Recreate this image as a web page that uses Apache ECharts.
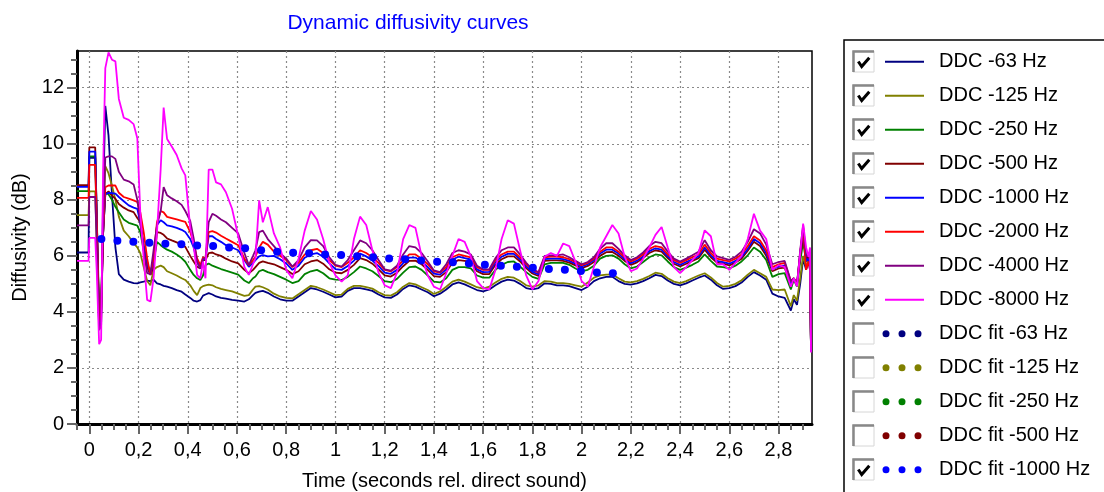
<!DOCTYPE html>
<html><head><meta charset="utf-8">
<script src="https://cdn.jsdelivr.net/npm/echarts@6.0.0/dist/echarts.min.js"></script>
<style>html,body{margin:0;padding:0;background:#fff}#chart{width:1104px;height:492px}</style>
</head><body><div id="chart"></div>
<script>
// ---------- DATA ----------
const time = [-0.05,-0.003,0,0.024,0.03,0.04,0.048,0.056,0.065,0.078,0.092,0.106,0.12,0.14,0.16,0.18,0.195,0.207,0.221,0.235,0.248,0.261,0.275,0.29,0.302,0.316,0.335,0.355,0.375,0.39,0.41,0.424,0.438,0.451,0.462,0.472,0.485,0.5,0.515,0.535,0.555,0.58,0.605,0.63,0.648,0.665,0.675,0.69,0.705,0.725,
0.75,0.775,0.8,0.825,0.85,0.875,0.9,0.925,0.95,0.975,1.0,1.025,1.05,1.075,1.1,1.125,1.15,1.175,1.2,1.225,1.25,1.275,1.3,1.325,1.35,1.375,1.4,1.425,1.45,1.475,1.5,1.525,1.55,1.575,1.6,1.625,1.65,1.675,1.7,1.725,1.75,1.775,1.8,1.825,1.85,1.875,1.9,1.925,1.95,1.975,2.0,2.025,2.05,2.075,2.1,2.125,2.15,2.175,2.2,2.225,2.25,2.275,2.3,2.325,2.35,2.375,2.4,2.425,2.45,2.475,2.5,2.525,2.55,2.575,2.6,2.625,2.65,2.675,2.7,2.725,2.75,2.775,2.8,2.825,2.85,
2.862,2.875,2.888,2.9,2.912,2.922,2.928,2.932];

const ddc63 = [6.12,6.12,9.5,9.5,7.0,3.4,3.6,8.0,11.35,10.3,8.2,6.3,5.35,5.15,5.08,5.03,5.02,5.05,5.08,5.12,5.1,5.15,5.02,4.98,4.93,4.9,4.85,4.78,4.72,4.62,4.5,4.4,4.37,4.42,4.58,4.62,4.67,4.62,4.55,4.5,4.47,4.43,4.4,4.37,4.45,4.6,4.68,4.72,4.75,4.68,
4.55,4.45,4.4,4.4,4.55,4.7,4.85,4.8,4.72,4.62,4.52,4.55,4.75,4.85,4.85,4.8,4.75,4.62,4.52,4.5,4.62,4.82,4.95,4.9,4.8,4.7,4.56,4.65,4.8,4.98,5.05,4.98,4.88,4.78,4.73,4.8,4.95,5.08,5.15,5.12,5.0,4.85,4.8,4.85,5.02,5.0,4.95,4.95,4.92,4.85,4.78,4.9,5.1,5.2,5.25,5.25,5.1,5.0,4.97,5.02,5.1,5.2,5.32,5.28,5.12,5.0,4.95,5.02,5.12,5.22,5.3,5.15,4.95,4.82,4.85,4.92,5.05,5.25,5.42,5.3,5.15,4.65,4.55,4.5,4.05,
4.45,4.25,5.0,5.9,5.5,5.8,5.5,2.6];

const ddc125 = [7.45,7.45,8.3,8.3,6.5,4.0,4.3,7.0,9.2,8.95,8.5,8.0,7.4,6.9,6.7,6.45,6.3,6.1,5.6,5.1,4.95,5.5,5.6,5.65,5.6,5.45,5.38,5.3,5.2,5.14,4.95,4.75,4.6,4.85,4.92,4.95,4.97,4.95,4.88,4.82,4.78,4.73,4.65,4.57,4.6,4.8,4.9,4.92,4.88,4.8,
4.65,4.55,4.5,4.48,4.63,4.78,4.93,4.88,4.8,4.7,4.6,4.62,4.82,4.93,4.93,4.88,4.83,4.7,4.6,4.58,4.7,4.9,5.03,4.98,4.88,4.78,4.64,4.73,4.9,5.08,5.15,5.08,4.98,4.88,4.83,4.9,5.05,5.18,5.25,5.22,5.1,4.95,4.9,4.95,5.1,5.08,5.03,5.03,5.0,4.95,4.9,5.05,5.22,5.3,5.33,5.33,5.2,5.08,5.05,5.1,5.18,5.28,5.4,5.36,5.2,5.08,5.03,5.1,5.2,5.3,5.38,5.23,5.03,4.9,4.93,5.0,5.13,5.33,5.5,5.38,5.25,4.8,4.78,4.8,4.2,
4.6,4.4,5.2,6.0,5.6,5.9,5.6,2.6];

const ddc250 = [8.31,8.31,9.55,9.55,7.5,4.1,4.3,6.8,8.25,8.2,8.0,7.75,7.56,7.3,7.18,7.12,7.08,6.85,6.2,5.67,5.44,5.79,6.5,6.38,6.3,6.22,6.15,6.05,5.92,5.79,5.5,5.32,5.2,5.14,5.3,5.67,5.73,5.65,5.6,5.53,5.47,5.4,5.33,5.12,5.03,5.2,5.26,5.45,5.5,5.42,
5.35,5.25,5.15,5.03,5.1,5.35,5.45,5.5,5.38,5.2,5.15,5.14,5.25,5.42,5.62,5.55,5.45,5.28,5.1,5.06,5.18,5.4,5.6,5.62,5.5,5.3,5.08,5.05,5.2,5.5,5.6,5.6,5.55,5.3,5.22,5.22,5.5,5.68,5.78,5.8,5.62,5.42,5.25,5.18,5.7,5.75,5.75,5.75,5.68,5.55,5.45,5.5,5.65,5.9,6.0,6.02,5.9,5.7,5.55,5.62,5.78,5.95,6.05,6.02,5.8,5.6,5.5,5.58,5.68,5.8,6.05,5.82,5.62,5.6,5.55,5.65,5.8,6.02,6.3,6.15,5.85,5.25,5.35,5.38,4.8,
5.15,4.9,5.8,6.5,5.8,6.0,5.7,2.6];

const ddc500 = [8.52,8.52,9.87,9.87,7.5,3.7,4.0,6.8,8.2,8.3,8.15,8.04,7.85,7.72,7.62,7.56,7.35,7.21,6.3,5.6,5.32,5.6,6.85,6.82,6.75,6.62,6.55,6.48,6.4,6.32,6.0,5.8,5.61,5.55,5.85,5.85,6.1,6.12,6.05,6.0,5.9,5.8,5.73,5.5,5.38,5.5,5.6,5.75,5.8,5.75,
5.7,5.6,5.5,5.35,5.45,5.7,5.8,5.85,5.72,5.52,5.4,5.38,5.5,5.68,5.92,5.85,5.72,5.52,5.3,5.26,5.4,5.63,5.82,5.83,5.7,5.5,5.28,5.25,5.42,5.75,5.85,5.82,5.78,5.45,5.35,5.35,5.68,5.88,5.98,5.98,5.8,5.56,5.37,5.28,5.82,5.84,5.84,5.82,5.76,5.66,5.56,5.64,5.78,6.0,6.13,6.14,6.0,5.82,5.68,5.77,5.92,6.1,6.2,6.15,5.92,5.72,5.62,5.72,5.82,5.92,6.22,5.95,5.76,5.72,5.66,5.76,5.9,6.18,6.5,6.35,6.0,5.45,5.55,5.58,4.95,
5.2,4.95,6.0,6.7,5.9,6.0,5.7,2.6];

const ddc1000 = [8.46,8.46,9.72,9.72,7.5,3.6,3.9,6.8,8.2,8.25,8.24,8.22,8.1,7.95,7.8,7.72,7.68,7.2,6.38,5.79,5.32,5.8,7.1,7.27,7.2,7.09,7.05,7.0,6.93,6.85,6.6,6.3,5.79,5.55,5.9,5.88,6.7,6.7,6.6,6.5,6.38,6.3,6.2,5.85,5.61,5.75,5.85,5.98,6.03,5.98,
6.0,5.88,5.73,5.5,5.65,5.93,6.05,6.1,5.97,5.73,5.53,5.5,5.64,5.83,6.08,5.98,5.83,5.64,5.4,5.36,5.5,5.74,5.94,5.94,5.8,5.6,5.37,5.33,5.52,5.87,5.97,5.92,5.87,5.52,5.42,5.43,5.77,5.97,6.07,6.07,5.88,5.63,5.43,5.34,5.88,5.9,5.9,5.88,5.82,5.72,5.62,5.7,5.85,6.08,6.22,6.22,6.08,5.88,5.74,5.83,5.98,6.17,6.27,6.22,5.98,5.78,5.68,5.78,5.88,5.98,6.3,6.02,5.82,5.78,5.72,5.82,5.97,6.25,6.6,6.45,6.1,5.52,5.62,5.66,5.0,
5.2,5.0,6.1,6.9,5.8,5.9,5.6,2.6];

const ddc2000 = [8.07,8.07,9.25,9.25,7.3,3.66,3.9,6.8,8.45,8.51,8.51,8.51,8.25,8.1,8.04,7.98,7.92,7.56,6.85,5.91,5.32,5.9,7.21,7.6,7.55,7.39,7.35,7.3,7.25,7.21,6.85,6.45,5.91,5.67,5.95,5.9,6.85,6.88,6.83,6.72,6.62,6.5,6.38,5.9,5.67,5.85,5.97,6.3,6.5,6.4,
6.15,6.0,5.85,5.6,5.75,6.05,6.2,6.25,6.1,5.85,5.65,5.6,5.75,5.95,6.2,6.1,5.95,5.75,5.5,5.45,5.6,5.85,6.05,6.05,5.9,5.7,5.45,5.4,5.6,5.95,6.05,6.0,5.95,5.6,5.5,5.5,5.85,6.05,6.15,6.15,5.95,5.7,5.5,5.4,5.95,5.97,5.97,5.95,5.88,5.78,5.67,5.75,5.9,6.15,6.3,6.3,6.15,5.95,5.8,5.9,6.05,6.25,6.35,6.3,6.05,5.85,5.75,5.85,5.95,6.05,6.4,6.1,5.9,5.85,5.8,5.9,6.05,6.35,6.7,6.55,6.2,5.6,5.7,5.75,5.1,
5.2,5.0,6.1,7.0,5.5,5.8,5.5,2.65];

const ddc4000 = [7.09,7.09,8.1,8.1,6.5,3.35,3.5,7.0,9.51,9.55,9.55,9.46,9.0,8.72,8.66,8.55,8.0,7.2,6.2,5.38,5.35,6.2,7.08,7.6,8.45,8.16,8.05,7.95,7.82,7.6,7.25,6.62,5.79,5.55,5.91,5.91,7.2,7.5,7.43,7.3,7.2,7.0,6.8,6.1,5.67,6.0,6.2,6.85,6.9,6.6,
6.35,6.1,5.9,5.62,5.85,6.3,6.56,6.55,6.35,5.95,5.68,5.62,5.85,6.2,6.55,6.45,6.2,5.85,5.52,5.47,5.65,6.05,6.35,6.3,6.1,5.8,5.48,5.42,5.7,6.1,6.2,6.15,6.05,5.65,5.52,5.52,5.92,6.2,6.3,6.3,6.05,5.75,5.52,5.42,6.0,6.02,6.02,6.05,5.95,5.82,5.7,5.78,5.95,6.25,6.45,6.45,6.25,6.02,5.85,5.95,6.12,6.35,6.5,6.45,6.15,5.9,5.8,5.9,6.02,6.15,6.56,6.2,5.98,5.92,5.86,5.97,6.15,6.5,6.95,6.8,6.4,5.7,5.78,5.82,5.1,
5.2,4.95,6.2,7.1,6.0,6.0,5.8,2.65];

const ddc8000 = [5.82,5.82,6.64,6.64,5.5,2.85,3.0,9.0,12.7,13.26,13.0,12.94,11.6,10.93,10.85,10.7,10.2,7.56,5.9,4.43,4.37,5.2,6.85,9.1,11.29,10.17,9.9,9.6,9.12,8.87,7.0,6.38,5.32,5.2,5.79,5.2,9.08,9.08,8.62,8.55,8.27,7.68,6.7,5.6,5.32,5.7,5.91,7.98,7.2,7.74,
6.8,6.3,5.5,5.2,5.9,6.9,7.6,7.3,6.6,5.75,5.3,5.08,5.3,6.6,7.4,7.1,6.2,5.4,4.95,4.85,5.4,6.6,7.1,7.0,6.0,5.3,4.9,4.8,5.38,6.0,6.6,6.5,5.97,5.1,4.85,4.8,5.5,6.6,7.27,7.15,6.2,5.3,4.8,5.1,5.97,6.1,6.0,6.44,6.35,5.8,5.1,4.9,5.6,6.3,6.7,7.1,6.8,5.97,5.45,5.55,5.9,6.3,6.75,7.03,6.3,5.6,5.38,5.6,5.85,6.1,6.91,6.7,5.7,5.7,5.5,5.75,6.0,6.6,7.5,6.9,6.6,5.5,5.67,5.6,4.9,
5.2,4.91,6.1,7.15,6.3,5.97,6.3,2.55];

const fitTime = [0.049,0.114,0.179,0.244,0.309,0.374,0.438,0.503,0.568,0.633,0.698,0.763,0.828,0.893,0.958,1.023,1.088,1.153,1.218,1.283,1.348,1.413,1.477,1.542,1.607,1.672,1.737,1.802,1.867,1.932,1.997,2.062,2.127];
const fit1000 = [6.60,6.54,6.50,6.47,6.43,6.41,6.37,6.35,6.30,6.27,6.20,6.15,6.11,6.09,6.05,6.03,5.99,5.95,5.91,5.88,5.83,5.79,5.77,5.73,5.68,5.65,5.61,5.58,5.53,5.50,5.46,5.41,5.38];

const xTickValues = [0,0.2,0.4,0.6,0.8,1,1.2,1.4,1.6,1.8,2,2.2,2.4,2.6,2.8];
const xTickLabels = ['0','0,2','0,4','0,6','0,8','1','1,2','1,4','1,6','1,8','2','2,2','2,4','2,6','2,8'];
const xMinorTicks = [-0.05,0.05,0.1,0.15,0.25,0.3,0.35,0.45,0.5,0.55,0.65,0.7,0.75,0.85,0.9,0.95,1.05,1.1,1.15,1.25,1.3,1.35,1.45,1.5,1.55,1.65,1.7,1.75,1.85,1.9,1.95,2.05,2.1,2.15,2.25,2.3,2.35,2.45,2.5,2.55,2.65,2.7,2.75,2.85,2.9];
const yTickValues = [0,2,4,6,8,10,12];
const yTickLabels = ['0','2','4','6','8','10','12'];
const yMinorTicks = [0.5,1,1.5,2.5,3,3.5,4.5,5,5.5,6.5,7,7.5,8.5,9,9.5,10.5,11,11.5,12.5,13];

const lineNames = ['DDC -63 Hz','DDC -125 Hz','DDC -250 Hz','DDC -500 Hz','DDC -1000 Hz','DDC -2000 Hz','DDC -4000 Hz','DDC -8000 Hz'];
const lineValues = [ddc63, ddc125, ddc250, ddc500, ddc1000, ddc2000, ddc4000, ddc8000];
const fitNames = ['DDC fit -63 Hz','DDC fit -125 Hz','DDC fit -250 Hz','DDC fit -500 Hz','DDC fit -1000 Hz'];
const fitChecked = [false,false,false,false,true];

// ---------- STYLE ----------
const lineColors = ['#000080','#808000','#008000','#800000','#0000ff','#ff0000','#800080','#ff00ff'];
const fitColors = ['#000080','#808000','#008000','#800000','#0000ff'];
const FONT = '"Liberation Sans", Arial, Helvetica, sans-serif';

lineValues.forEach((a,i)=>{ if(a.length!==time.length) console.error('length mismatch', lineNames[i], a.length, time.length); });

const series = lineValues.map((vals,i)=>({
  name: lineNames[i], type:'line', xAxisIndex:0, yAxisIndex:0,
  data: time.map((t,k)=>[t, vals[k]]),
  showSymbol:false, symbol:'none', animation:false,
  lineStyle:{color:lineColors[i], width:1.8}, itemStyle:{color:lineColors[i]}, z: 2+i
}));
series.push({
  name: fitNames[4], type:'scatter', xAxisIndex:0, yAxisIndex:0,
  data: fitTime.map((t,k)=>[t, fit1000[k]]),
  symbolSize:8, itemStyle:{color:fitColors[4], opacity:1}, animation:false, z: 20
});

// legend drawn as graphic (checkbox + sample + text)
const legendItems = lineNames.map((n,i)=>({name:n, color:lineColors[i], fit:false, checked:true}))
  .concat(fitNames.map((n,i)=>({name:n, color:fitColors[i], fit:true, checked:fitChecked[i]})));
const gEls = [{type:'rect', shape:{x:844, y:40, width:300, height:500}, style:{fill:'none', stroke:'#000', lineWidth:1.5}}];
legendItems.forEach((it,i)=>{
  const y = 60 + 34*i;
  gEls.push({type:'rect', shape:{x:853, y:y-9, width:21, height:21}, style:{fill:'#fff', stroke:'#d6d6d6', lineWidth:1}});
  gEls.push({type:'polyline', shape:{points:[[853.5,y+12],[853.5,y-8.5],[874,y-8.5]]}, style:{fill:'none', stroke:'#888', lineWidth:2.5}});
  if (it.checked) gEls.push({type:'polyline', shape:{points:[[858.3,y+1.5],[861.7,y+6.5],[869.3,y-2.3]]}, style:{fill:'none', stroke:'#000', lineWidth:3}});
  if (!it.fit) {
    gEls.push({type:'line', shape:{x1:885, y1:y+1.7, x2:924, y2:y+1.7}, style:{stroke:it.color, lineWidth:2}});
  } else {
    [886,902,918].forEach(cx=>gEls.push({type:'circle', shape:{cx:cx, cy:y+1.7, r:3.5}, style:{fill:it.color}}));
  }
  gEls.push({type:'text', x:939, y:y+1, style:{text:it.name, font:'20px '+FONT, fill:'#000', textVerticalAlign:'middle', verticalAlign:'middle'}});
});

const tickLine = {color:'#666', width:2};
const option = {
  backgroundColor:'#fff',
  animation:false,
  title:{text:'Dynamic diffusivity curves', left:403, top:8, textAlign:'center',
    textStyle:{color:'#0000ff', fontSize:21, fontWeight:'normal', fontFamily:FONT}},
  grid:{left:77, right:292, top:51, bottom:68, outerBoundsMode:'none', containLabel:false,
    show:true, borderColor:'#000', borderWidth:1.5, backgroundColor:'#fff'},
  xAxis:[
    {type:'value', min:-0.05, max:2.936, position:'bottom',
     name:'Time (seconds rel. direct sound)', nameLocation:'middle', nameGap:47,
     nameTextStyle:{color:'#000', fontSize:20, fontFamily:FONT},
     axisLine:{show:true, onZero:false, lineStyle:{color:'#000', width:3}},
     axisTick:{show:true, customValues:xTickValues, length:10, lineStyle:tickLine},
     axisLabel:{customValues:xTickValues, margin:16, color:'#000', fontSize:20, fontFamily:FONT,
       formatter:(v)=>{const i=xTickValues.findIndex(x=>Math.abs(x-v)<1e-6); return i>=0?xTickLabels[i]:'';}},
     splitLine:{show:true, lineStyle:{color:'#8a8a8a', width:1.2, type:[2,3]}}},
    {type:'value', min:-0.05, max:2.936, position:'bottom',
     axisLine:{show:false, onZero:false}, axisLabel:{show:false}, splitLine:{show:false},
     axisTick:{show:true, customValues:xMinorTicks, length:6, lineStyle:tickLine}}
  ],
  yAxis:[
    {type:'value', min:0, max:13.31, position:'left',
     name:'Diffusivity (dB)', nameLocation:'middle', nameGap:35, nameRotate:90,
     nameTextStyle:{color:'#000', fontSize:20, fontFamily:FONT},
     axisLine:{show:true, onZero:false, lineStyle:{color:'#000', width:3}},
     axisTick:{show:true, customValues:yTickValues, length:10, lineStyle:tickLine},
     axisLabel:{customValues:yTickValues, margin:13, color:'#000', fontSize:20, fontFamily:FONT,
       formatter:(v)=>{const i=yTickValues.findIndex(x=>Math.abs(x-v)<1e-6); return i>=0?yTickLabels[i]:'';}},
     splitLine:{show:true, lineStyle:{color:'#8a8a8a', width:1.2, type:[2,3]}}},
    {type:'value', min:0, max:13.31, position:'left',
     axisLine:{show:false, onZero:false}, axisLabel:{show:false}, splitLine:{show:false},
     axisTick:{show:true, customValues:yMinorTicks, length:6, lineStyle:tickLine}}
  ],
  series: series,
  graphic:{elements:gEls}
};
const chart = echarts.init(document.getElementById('chart'), null, {renderer:'canvas'});
chart.setOption(option);
</script></body></html>
